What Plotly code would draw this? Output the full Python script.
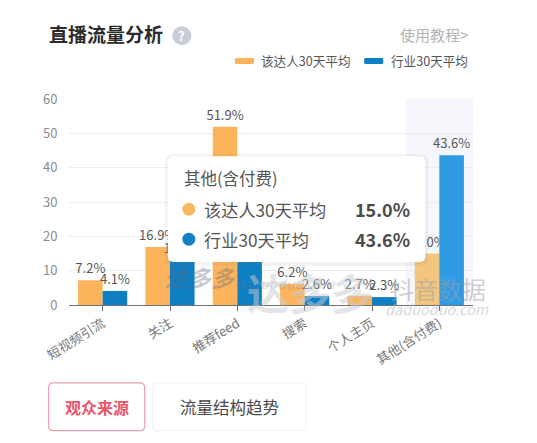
import plotly.graph_objects as go

categories = ["短视频引流", "关注", "推荐feed", "搜索", "个人主页", "其他(含付费)"]
creator_avg = [7.2, 16.9, 51.9, 6.2, 2.7, 15.0]
industry_avg = [4.1, 13.1, 34.3, 2.6, 2.3, 43.6]
series_names = ["该达人30天平均", "行业30天平均"]
y_ticks = [0, 10, 20, 30, 40, 50, 60]

W, H = 537, 443
L, R, T, B = 69.4, 472.6, 98.5, 305
FONT = "Noto Sans CJK SC"
ORANGE, BLUE = "#fbb45c", "#0f7fc4"
ORANGE_HI, BLUE_HI = "#f2c67e", "#2f9be2"
n = len(categories)

def px(x): return (x - L) / (R - L)
def py(y): return (B - y) / (B - T)

fig = go.Figure()
fig.add_bar(
    x=list(range(n)), y=creator_avg, name=series_names[0],
    marker=dict(color=[ORANGE] * (n - 1) + [ORANGE_HI], line_width=0),
    text=[f"{v:.1f}%" for v in creator_avg], textposition="outside", cliponaxis=False,
    constraintext="none", textfont=dict(family=FONT, size=13, color="#555555"), hoverinfo="skip",
)
fig.add_bar(
    x=list(range(n)), y=industry_avg, name=series_names[1],
    marker=dict(color=[BLUE] * (n - 1) + [BLUE_HI], line_width=0),
    text=[f"{v:.1f}%" for v in industry_avg], textposition="outside", cliponaxis=False,
    constraintext="none", textfont=dict(family=FONT, size=13, color="#555555"), hoverinfo="skip",
)

shapes, annos = [], []

def text(x, y, s, size, color, anchor="left", bold=False, italic=False):
    s = f"<b>{s}</b>" if bold else s
    s = f"<i>{s}</i>" if italic else s
    annos.append(dict(
        xref="paper", yref="paper", x=px(x), y=py(y), text=s,
        showarrow=False, xanchor=anchor, yanchor="middle",
        font=dict(family=FONT, size=size, color=color), borderpad=0,
    ))

def rrect(x0, y0, x1, y1, r, fill, line=None, width=0, layer="above"):
    X0, X1 = px(x0), px(x1)
    Y0, Y1 = py(y0), py(y1)
    rx, ry = r / (R - L), r / (B - T)
    path = (f"M{X0+rx},{Y0} L{X1-rx},{Y0} Q{X1},{Y0} {X1},{Y0-ry} L{X1},{Y1+ry} Q{X1},{Y1} {X1-rx},{Y1} "
            f"L{X0+rx},{Y1} Q{X0},{Y1} {X0},{Y1+ry} L{X0},{Y0-ry} Q{X0},{Y0} {X0+rx},{Y0} Z")
    shapes.append(dict(type="path", xref="paper", yref="paper", path=path, fillcolor=fill,
                       line=dict(color=line or "rgba(0,0,0,0)", width=width), layer=layer))

def dot(cx, cy, r, fill):
    shapes.append(dict(type="circle", xref="paper", yref="paper", x0=px(cx - r), x1=px(cx + r),
                       y0=py(cy + r), y1=py(cy - r), fillcolor=fill, line_width=0, layer="above"))

# hover band behind the last category
shapes.append(dict(type="rect", xref="x", yref="paper", x0=n - 1.5, x1=n - 0.5, y0=0, y1=1,
                   fillcolor="rgba(225,230,244,0.30)", line_width=0, layer="below"))

# header
text(48, 33, "直播流量分析", 19, "#2b2b2b", bold=True)
dot(182, 35, 9.5, "#c9cdd9")
text(182, 35, "?", 13, "#ffffff", anchor="center", bold=True)
text(469, 34, "使用教程&gt;", 15, "#b3b3b3", anchor="right")
rrect(235, 57.5, 254, 63.5, 1, ORANGE)
text(260, 60, series_names[0], 12.6, "#555555")
rrect(364, 57.5, 383, 63.5, 1, BLUE)
text(390, 60, series_names[1], 12.6, "#555555")

# watermarks
text(201, 277, "达多多", 23, "rgba(95,105,125,0.36)", anchor="center", bold=True, italic=True)
text(285, 283, "daduoduo.com", 14, "rgba(120,130,150,0.28)", anchor="center", italic=True)
text(310, 291, "达多多", 42, "rgba(200,204,210,0.52)", anchor="center", bold=True)
text(438, 288, "抖音数据", 24, "rgba(160,160,168,0.5)", anchor="center")
text(437, 309, "daduoduo.com", 14.5, "rgba(185,185,195,0.6)", anchor="center", italic=True)

# tooltip
rrect(165, 154, 428, 266, 8, "rgba(120,120,120,0.09)")
rrect(168, 156, 425, 262, 6, "#ffffff")
idx = n - 1
text(183, 178, categories[idx], 16.5, "#555555")
dot(189, 209, 6.5, "#f9b864")
text(203, 209, series_names[0], 17.2, "#555555")
text(411, 209, f"{creator_avg[idx]:.1f}%", 18, "#4c4c4c", anchor="right", bold=True)
dot(189, 239, 6.5, "#1480c6")
text(203, 239, series_names[1], 17.2, "#555555")
text(411, 239, f"{industry_avg[idx]:.1f}%", 18, "#4c4c4c", anchor="right", bold=True)

# buttons
rrect(49, 383, 145, 431, 5, "#ffffff", "#e9a0ac", 1.2)
text(97, 407, "观众来源", 16, "#e8566e", anchor="center", bold=True)
rrect(153, 383, 306, 431, 5, "#ffffff", "#efefef", 1)
text(230, 407, "流量结构趋势", 16.5, "#4a4a4a", anchor="center")

fig.update_layout(
    width=W, height=H, autosize=False, barmode="group", bargap=0.27, bargroupgap=0,
    margin=dict(l=L, r=W - R, t=T, b=H - B, pad=0), showlegend=False,
    paper_bgcolor="#ffffff", plot_bgcolor="rgba(0,0,0,0)", shapes=shapes, annotations=annos,
    font=dict(family=FONT), hovermode=False,
)
fig.update_xaxes(
    tickmode="array", tickvals=list(range(n)), ticktext=categories, tickangle=-32,
    range=[-0.5, n - 0.5], ticks="outside", ticklen=5, tickcolor="#6e7079", tickwidth=1,
    showline=True, linecolor="#6e7079", linewidth=1.2, showgrid=False, zeroline=False,
    tickfont=dict(family=FONT, size=13, color="#777777"),
)
fig.update_yaxes(
    tickmode="array", tickvals=y_ticks, range=[0, 60], ticks="outside", ticklen=8,
    tickcolor="rgba(0,0,0,0)", showgrid=True, gridcolor="#ebedf0", gridwidth=1.2,
    zeroline=False, showline=False, tickfont=dict(family=FONT, size=13, color="#8c8c8c"),
)

fig.write_html("out.html", config={"displayModeBar": False},
               post_script="document.body.style.margin='0';document.body.style.background='#fff';")
